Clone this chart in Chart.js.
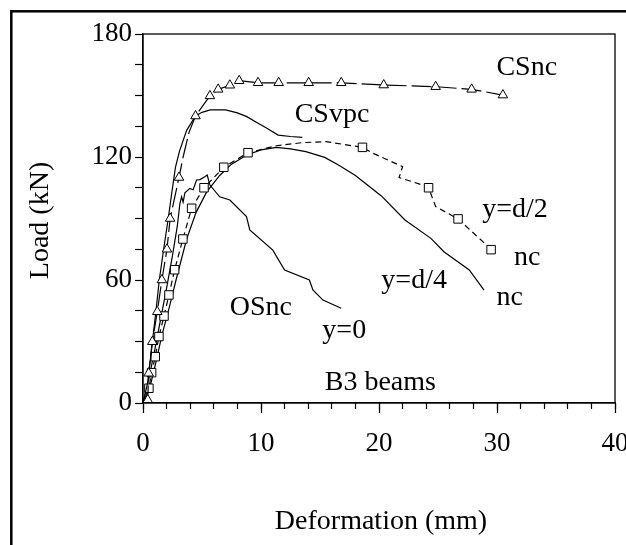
<!DOCTYPE html>
<html>
<head>
<meta charset="utf-8">
<script src="https://cdn.jsdelivr.net/npm/chart.js@4.4.1/dist/chart.umd.min.js"></script>
<style>
    html, body { margin: 0; padding: 0; background: #fff; }
</style>
</head>
<body>
<canvas id="loadChart" width="626" height="545"></canvas>
<script>
// CSnc: long-dash line with open triangles
const csncX = [0, 0.4, 0.48, 0.79, 1.21, 1.6, 2.03, 2.3, 3.05, 3.4, 3.9, 4.45, 5.67, 6.37, 7.36, 8.15, 9.75, 11.5, 14.04, 16.8, 20.4, 24.8, 27.85, 30.5];
const csncY = [0, 1.5, 14.5, 29.9, 44.5, 60, 75, 90, 110, 120, 132, 140, 149.8, 153, 155, 157.2, 156.2, 156.2, 156.2, 156.2, 155.1, 154.3, 153, 150.2];
const csncMark = [0, 1, 1, 1, 1, 1, 1, 1, 1, 0, 0, 1, 1, 1, 1, 1, 1, 1, 1, 1, 1, 1, 1, 1];

// CSvpc: solid line
const csvpcX = [0, 0.4, 0.8, 1.1, 1.38, 1.75, 2.14, 2.45, 2.75, 3.1, 3.7, 4.45, 5, 5.7, 7, 8, 8.8, 9.6, 10.5, 11.45, 12.5, 13.5];
const csvpcY = [0, 10, 30, 45, 60, 75, 90, 103, 115, 123, 133, 140, 141.8, 143, 143, 141.5, 139.7, 137, 134, 130.7, 130, 129.6];

// y=d/2 nc: dashed line with open squares
const d2X = [0, 0.5, 0.73, 1.04, 1.35, 1.78, 2.2, 2.68, 3.38, 4.12, 5.17, 6.85, 8.9, 11.3, 13.5, 15.5, 18.6, 19.5, 22, 21.7, 23.7, 24.2, 24.8, 26.7, 28.8, 29.5];
const d2Y = [0, 7.2, 14.8, 22.6, 32.4, 42.4, 52.7, 65, 80, 95, 105, 115, 122.1, 125.5, 127, 127.5, 124.7, 121.8, 115.3, 110, 106.3, 105, 95.8, 89.8, 78.7, 74.8];
const d2Mark = [0, 1, 1, 1, 1, 1, 1, 1, 1, 1, 1, 1, 1, 0, 0, 0, 1, 0, 0, 0, 0, 1, 0, 1, 0, 1];

// y=d/4 nc: solid line
const d4X = [0, 0.6, 1.1, 1.6, 2.2, 2.8, 3.7, 4.5, 5.4, 6.5, 7.5, 8.8, 10, 11.3, 12.5, 13.8, 15.4, 16.6, 18, 20.2, 22.2, 24.4, 25.5, 27.65, 28.9];
const d4Y = [0, 8, 20, 33, 46, 60, 80, 93, 103, 111, 116.5, 121, 123.5, 124.7, 124, 122.6, 119.8, 116, 111, 101, 89.3, 80.3, 73.8, 64.9, 55.1];

// OSnc y=0: solid line
const osX = [0, 0.5, 1, 1.5, 2, 2.5, 2.9, 3.13, 3.27, 3.4, 3.55, 3.97, 4.25, 4.54, 4.82, 5.24, 5.44, 5.67, 6.5, 7.36, 8.77, 9.05, 11, 12, 14.1, 14.4, 15.25, 16.8];
const osY = [0, 12, 26, 41, 56, 72, 86, 97.4, 100.6, 98, 102.5, 104.7, 104, 108.8, 109, 110.4, 111.2, 106.3, 100.6, 99, 90.9, 84.4, 74.6, 64.9, 60, 55.1, 50.2, 46.2];

// labels written inside the plot (left edge, baseline in data units)
const noteText = ['CSnc', 'CSvpc', 'y=d/2', 'nc', 'y=d/4', 'nc', 'OSnc', 'y=0', 'B3 beams'];
const noteX = [29.95, 12.85, 28.75, 31.45, 20.2, 29.95, 7.35, 15.2, 15.4];
const noteY = [160, 137, 90.7, 67.3, 56, 47.8, 42.9, 31.7, 6.3];

const xTitle = 'Deformation (mm)';
const yTitle = 'Load (kN)';

const serif = '"Liberation Serif", "Times New Roman", serif';

const toPoints = (xs, ys) => xs.map((x, i) => ({ x: x, y: ys[i] }));

const framePlugin = {
    id: 'frames',
    beforeDraw(chart) {
        const ctx = chart.ctx;
        ctx.save();
        ctx.fillStyle = '#fff';
        ctx.fillRect(0, 0, chart.width, chart.height);
        ctx.restore();
    },
    afterDraw(chart) {
        const { ctx, chartArea: a, scales } = chart;
        ctx.save();
        ctx.strokeStyle = '#000';
        ctx.lineWidth = 1.3;
        ctx.strokeRect(a.left, a.top, a.right - a.left, a.bottom - a.top);
        // outer frame of the figure (runs off the right and bottom edges)
        ctx.lineWidth = 2.5;
        ctx.strokeRect(11.3, 11.3, 800, 800);

        ctx.fillStyle = '#000';
        ctx.font = '28px ' + serif;
        ctx.textAlign = 'left';
        ctx.textBaseline = 'alphabetic';
        noteText.forEach((t, i) => {
            ctx.fillText(t, scales.x.getPixelForValue(noteX[i]), scales.y.getPixelForValue(noteY[i]));
        });

        ctx.textAlign = 'center';
        ctx.textBaseline = 'middle';
        ctx.fillText(xTitle, (a.left + a.right) / 2 + 2, 522);
        ctx.translate(41, (a.top + a.bottom) / 2 + 2);
        ctx.rotate(-Math.PI / 2);
        ctx.fillText(yTitle, 0, 0);
        ctx.restore();
    }
};

const lineStyle = {
    showLine: true,
    borderColor: '#000',
    borderWidth: 1.2,
    tension: 0,
    fill: false,
    pointBackgroundColor: '#fff',
    pointBorderColor: '#000',
    pointBorderWidth: 1,
    pointHoverRadius: 0
};

new Chart(document.getElementById('loadChart').getContext('2d'), {
    type: 'scatter',
    data: {
        datasets: [
            {
                ...lineStyle,
                label: 'CSnc',
                data: toPoints(csncX, csncY),
                borderDash: [20, 5],
                pointStyle: 'triangle',
                pointRadius: ctx => csncMark[ctx.dataIndex] ? 5.5 : 0
            },
            {
                ...lineStyle,
                label: 'CSvpc',
                data: toPoints(csvpcX, csvpcY),
                pointRadius: 0
            },
            {
                ...lineStyle,
                label: 'y=d/2 nc',
                data: toPoints(d2X, d2Y),
                borderDash: [6, 4],
                pointStyle: 'rect',
                pointRadius: ctx => d2Mark[ctx.dataIndex] ? 6 : 0
            },
            {
                ...lineStyle,
                label: 'y=d/4 nc',
                data: toPoints(d4X, d4Y),
                pointRadius: 0
            },
            {
                ...lineStyle,
                label: 'OSnc y=0',
                data: toPoints(osX, osY),
                pointRadius: 0
            }
        ]
    },
    options: {
        responsive: false,
        animation: false,
        devicePixelRatio: 1,
        layout: { padding: { left: 0, top: 34, right: 11, bottom: 0 } },
        plugins: {
            legend: { display: false },
            tooltip: { enabled: false }
        },
        scales: {
            x: {
                type: 'linear',
                position: 'bottom',
                weight: 1,
                min: 0,
                max: 40,
                ticks: {
                    stepSize: 10,
                    color: '#000',
                    padding: 15,
                    maxRotation: 0,
                    autoSkip: false,
                    font: { family: serif, size: 27 }
                },
                grid: { drawOnChartArea: false, tickLength: 10, color: '#000', tickWidth: 1.2 },
                border: { color: '#000', width: 1.3 },
                afterFit(scale) {
                    scale.height = 142;
                    scale.paddingLeft = 0;
                    scale.paddingRight = 0;
                }
            },
            xMinor: {
                type: 'linear',
                position: 'bottom',
                weight: 0,
                min: 0,
                max: 40,
                ticks: { stepSize: 2, display: false },
                grid: { drawOnChartArea: false, tickLength: 6, color: '#000', tickWidth: 1.2 },
                border: { display: false },
                afterFit(scale) {
                    scale.height = 0;
                    scale.paddingLeft = 0;
                    scale.paddingRight = 0;
                }
            },
            y: {
                type: 'linear',
                position: 'left',
                min: 0,
                max: 180,
                ticks: {
                    stepSize: 15,
                    color: '#000',
                    padding: 3,
                    autoSkip: false,
                    font: { family: serif, size: 27 },
                    callback: v => (v % 60 === 0 ? v : '')
                },
                grid: { drawOnChartArea: false, tickLength: 8, color: '#000', tickWidth: 1.2 },
                border: { color: '#000', width: 1.3 },
                afterFit(scale) {
                    scale.width = 143;
                    scale.paddingTop = 0;
                    scale.paddingBottom = 0;
                }
            }
        }
    },
    plugins: [framePlugin]
});
</script>
</body>
</html>
